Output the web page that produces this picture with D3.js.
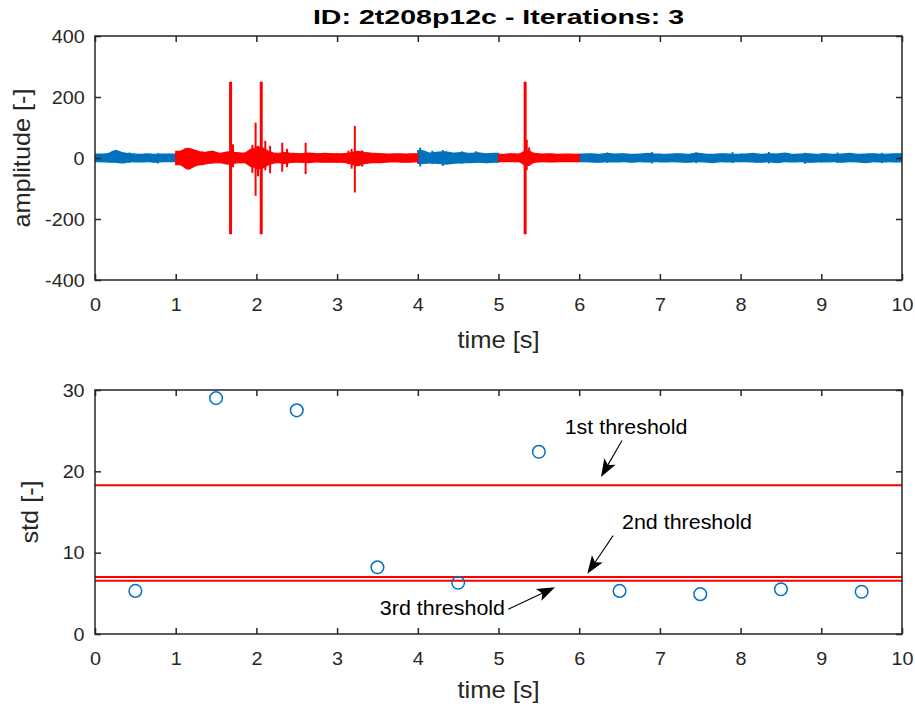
<!DOCTYPE html>
<html>
<head>
<meta charset="utf-8">
<script src="https://cdn.jsdelivr.net/npm/d3@7"></script>
<style>
  body { margin: 0; background: #fff; }
  svg { display: block; font-family: "Liberation Sans", Arial, Helvetica, sans-serif; }
  .axis path, .axis line { stroke: #262626; }
  .axis text { fill: #262626; }
</style>
</head>
<body>
<svg id="chart" width="915" height="709"></svg>
<script>
// ---- data ----
const titleText = "ID: 2t208p12c - Iterations: 3";
const timeTicks = [0, 1, 2, 3, 4, 5, 6, 7, 8, 9, 10];
const ampTicks = [-400, -200, 0, 200, 400];
const stdTicks = [0, 10, 20, 30];

// noise envelope of the signal, one value per 0.1 s window
const bandHi = [
  13, 14, 24, 17, 14, 12, 14, 12, 13, 13,
  22, 32, 24, 18, 22, 15, 20, 18, 16, 30,
  35, 22, 15, 18, 15, 14, 16, 14, 15, 14,
  14, 16, 22, 18, 15, 14, 13, 14, 13, 14,
  24, 16, 19, 20, 16, 18, 15, 17, 14, 15,
  12, 14, 13, 24, 15, 13, 14, 12, 13, 12,
  13, 14, 12, 15, 13, 14, 12, 13, 15, 13,
  12, 13, 14, 12, 16, 13, 12, 14, 13, 12,
  13, 15, 12, 14, 13, 16, 12, 13, 14, 12,
  14, 12, 13, 15, 12, 13, 14, 12, 13, 14
];
const bandLo = [
  -12, -13, -14, -16, -12, -13, -12, -14, -12, -12,
  -22, -36, -25, -20, -16, -15, -20, -16, -15, -30,
  -35, -22, -15, -18, -14, -14, -15, -13, -14, -14,
  -14, -18, -25, -18, -15, -15, -13, -13, -14, -13,
  -18, -16, -18, -20, -17, -16, -15, -14, -15, -14,
  -12, -12, -12, -25, -14, -12, -13, -12, -12, -12,
  -12, -13, -14, -12, -13, -12, -14, -12, -13, -12,
  -13, -12, -13, -14, -12, -13, -15, -12, -13, -12,
  -12, -13, -14, -12, -15, -12, -13, -12, -14, -13,
  -13, -12, -14, -12, -13, -15, -12, -13, -12, -13
];
// isolated peaks: [time, max, min]
const spikes = [
  [0.27, 26, -10], [0.43, 18, -16], [0.78, 16, -18],
  [1.12, 32, -30], [1.16, 30, -38], [1.33, 22, -24], [1.45, 24, -18],
  [1.68, 250, -250], [1.71, 45, -30], [1.95, 43, -49], [1.99, 116, -124],
  [2.02, 40, -60], [2.06, 250, -250], [2.11, 56, -40], [2.17, 40, -50],
  [2.32, 50, -45], [2.38, 30, -30], [2.61, 50, -53],
  [3.14, 24, -20], [3.18, 30, -35], [3.22, 105, -113], [3.31, 25, -28],
  [4.03, 34, -28], [4.18, 24, -20], [4.31, 26, -26], [4.55, 22, -18], [4.72, 22, -16],
  [5.33, 250, -250], [5.35, 60, -40], [5.38, 35, -26],
  [6.35, 18, -16], [6.9, 20, -18], [7.45, 18, -17], [7.9, 19, -16],
  [8.35, 20, -18], [8.8, 17, -19], [9.2, 18, -16], [9.75, 17, -17]
];

const stdTime = [0.5, 1.5, 2.5, 3.5, 4.5, 5.5, 6.5, 7.5, 8.5, 9.5];
const stdValues = [5.3, 29.0, 27.5, 8.2, 6.3, 22.4, 5.3, 4.9, 5.5, 5.2];
const thresholds = [18.3, 7.0, 6.55];
const thresholdLabels = ["1st threshold", "2nd threshold", "3rd threshold"];

// ---- layout ----
const svg = d3.select("#chart");
const left = 95, right = 902;
const top1 = 36, bottom1 = 280;
const top2 = 390, bottom2 = 634;
const ink = "#262626";
const blue = "#0072BD", red = "#FF0000";

const x1 = d3.scaleLinear().domain([0, 10]).range([left, right]);
const y1 = d3.scaleLinear().domain([-400, 400]).range([bottom1, top1]);
const x2 = d3.scaleLinear().domain([0, 10]).range([left, right]);
const y2 = d3.scaleLinear().domain([0, 30]).range([bottom2, top2]);

// window i is flagged when its std exceeds the last threshold
function segColor(t) {
  const i = Math.min(9, Math.floor(t));
  return stdValues[i] > thresholds[2] ? red : blue;
}

// the reference font runs wider than Liberation Sans, so stretch text a bit
function label(g, x, y, str, size, sx, rot) {
  return g.append("text")
    .attr("transform", "translate(" + x + "," + y + ")" + (rot ? " rotate(" + rot + ")" : "") + " scale(" + sx + ",1)")
    .attr("font-size", size)
    .text(str);
}

function drawFrame(g, x, y, yTicks, yTop, yBot) {
  const fmt = d => String(d);
  g.append("g").attr("class", "axis")
    .attr("transform", "translate(0," + yBot + ")")
    .call(d3.axisBottom(x).tickValues(timeTicks).tickFormat(fmt).tickSizeInner(-6).tickSizeOuter(0).tickPadding(18))
    .call(s => s.select(".domain").remove());
  g.append("g").attr("class", "axis")
    .attr("transform", "translate(0," + yTop + ")")
    .call(d3.axisTop(x).tickValues(timeTicks).tickSizeInner(-6).tickSizeOuter(0).tickFormat(""))
    .call(s => s.select(".domain").remove());
  g.append("g").attr("class", "axis")
    .attr("transform", "translate(" + left + ",0)")
    .call(d3.axisLeft(y).tickValues(yTicks).tickFormat(fmt).tickSizeInner(-6).tickSizeOuter(0).tickPadding(10))
    .call(s => s.select(".domain").remove());
  g.append("g").attr("class", "axis")
    .attr("transform", "translate(" + right + ",0)")
    .call(d3.axisRight(y).tickValues(yTicks).tickSizeInner(-6).tickSizeOuter(0).tickFormat(""))
    .call(s => s.select(".domain").remove());
  g.selectAll(".axis line").attr("stroke-width", 1.5);
  g.selectAll(".axis text")
    .style("font-size", "19px").style("font-family", null)
    .attr("transform", "scale(1.04,1)");
  g.append("rect")
    .attr("x", left).attr("y", yTop)
    .attr("width", right - left).attr("height", yBot - yTop)
    .attr("fill", "none").attr("stroke", ink).attr("stroke-width", 1.5);
}

// ---- top panel: signal ----
const g1 = svg.append("g");
const clip1 = svg.append("clipPath").attr("id", "clip1");
clip1.append("rect").attr("x", left).attr("y", top1).attr("width", right - left).attr("height", bottom1 - top1);
const sig = g1.append("g").attr("clip-path", "url(#clip1)");

const band = d3.area()
  .x(d => x1(d.t))
  .y0(d => y1(d.lo))
  .y1(d => y1(d.hi))
  .curve(d3.curveMonotoneX);

// one band per 1 s window, sampled at the middle of each 0.1 s slot
const seconds = d3.range(10).map(s => {
  const pts = d3.range(10).map(k => {
    const i = s * 10 + k;
    return { t: s + k * 0.1 + 0.05, hi: bandHi[i], lo: bandLo[i] };
  });
  pts.unshift({ t: s, hi: pts[0].hi, lo: pts[0].lo });
  pts.push({ t: s + 1, hi: pts[pts.length - 1].hi, lo: pts[pts.length - 1].lo });
  return { s: s, color: segColor(s + 0.5), pts: pts };
});

// blue first, red drawn over it
[blue, red].forEach(col => {
  sig.selectAll(null)
    .data(seconds.filter(d => d.color === col))
    .enter().append("path")
    .attr("d", d => band(d.pts))
    .attr("fill", col)
    .attr("stroke", col)
    .attr("stroke-width", 1.2);
  sig.selectAll(null)
    .data(spikes.filter(d => segColor(d[0]) === col))
    .enter().append("line")
    .attr("x1", d => x1(d[0])).attr("x2", d => x1(d[0]))
    .attr("y1", d => y1(d[1])).attr("y2", d => y1(d[2]))
    .attr("stroke", col)
    .attr("stroke-width", d => d[1] > 200 ? 3 : 2);
});

drawFrame(g1, x1, y1, ampTicks, top1, bottom1);

label(svg, (left + right) / 2, 24, titleText, 21, 1.36)
  .attr("text-anchor", "middle").attr("font-weight", "bold").attr("fill", "#000");

label(svg, (left + right) / 2, 348, "time [s]", 23, 1.11)
  .attr("text-anchor", "middle").attr("fill", ink);

label(svg, 30, (top1 + bottom1) / 2, "amplitude [-]", 23, 1.1, -90)
  .attr("text-anchor", "middle").attr("fill", ink);

// ---- bottom panel: std per window ----
const g2 = svg.append("g");

g2.selectAll(".thr")
  .data(thresholds)
  .enter().append("line")
  .attr("class", "thr")
  .attr("x1", left).attr("x2", right)
  .attr("y1", d => y2(d)).attr("y2", d => y2(d))
  .attr("stroke", red).attr("stroke-width", 2);

g2.selectAll(".pt")
  .data(stdValues)
  .enter().append("circle")
  .attr("class", "pt")
  .attr("cx", (d, i) => x2(stdTime[i]))
  .attr("cy", d => y2(d))
  .attr("r", 6.3)
  .attr("fill", "none").attr("stroke", blue).attr("stroke-width", 1.5);

drawFrame(g2, x2, y2, stdTicks, top2, bottom2);

label(svg, (left + right) / 2, 698, "time [s]", 23, 1.11)
  .attr("text-anchor", "middle").attr("fill", ink);

label(svg, 38, (top2 + bottom2) / 2, "std [-]", 23, 1.1, -90)
  .attr("text-anchor", "middle").attr("fill", ink);

// annotations: text anchor and arrow, in data units of the lower panel
const notes = [
  { text: thresholdLabels[0], tx: 5.82, ty: 24.6, from: [6.53, 23.8], to: [6.27, 19.3] },
  { text: thresholdLabels[1], tx: 6.53, ty: 12.9, from: [6.42, 12.1], to: [6.10, 7.4] },
  { text: thresholdLabels[2], tx: 3.53, ty: 2.3, from: [5.12, 3.05], to: [5.70, 5.75] }
];

const ann = svg.append("g");
notes.forEach(n => {
  label(ann, x2(n.tx), y2(n.ty), n.text, 19.5, 1.1).attr("fill", "#000");
  const ax = x2(n.from[0]), ay = y2(n.from[1]);
  const bx = x2(n.to[0]), by = y2(n.to[1]);
  const ang = Math.atan2(by - ay, bx - ax);
  const cs = Math.cos(ang), sn = Math.sin(ang);
  const len = 14, half = 6.5, notch = 4;
  const px = -sn * half, py = cs * half;
  const wingX = bx - (len + notch) * cs, wingY = by - (len + notch) * sn;
  const nx = bx - len * cs, ny = by - len * sn;
  ann.append("line")
    .attr("x1", ax).attr("y1", ay).attr("x2", nx).attr("y2", ny)
    .attr("stroke", "#000").attr("stroke-width", 1.1);
  ann.append("path")
    .attr("d", "M" + bx + "," + by +
      "L" + (wingX + px) + "," + (wingY + py) +
      "L" + nx + "," + ny +
      "L" + (wingX - px) + "," + (wingY - py) + "Z")
    .attr("fill", "#000");
});
</script>
</body>
</html>
